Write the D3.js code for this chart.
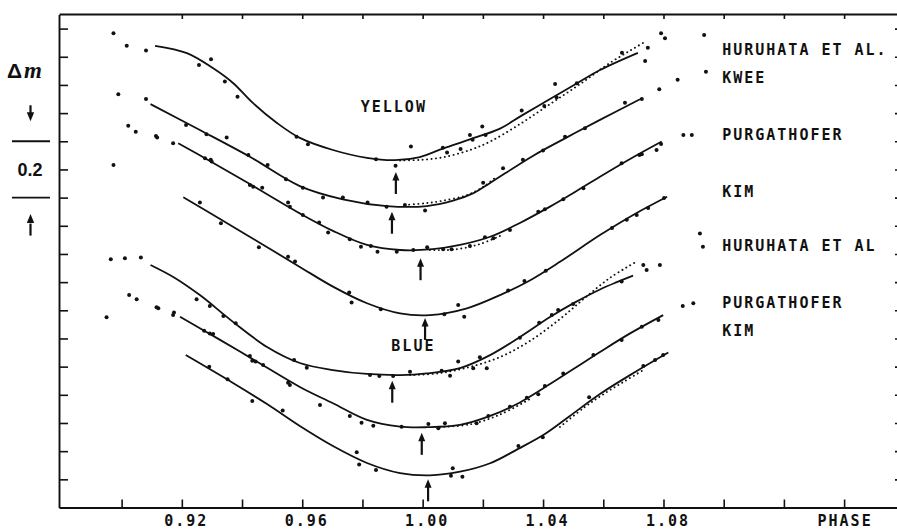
<!DOCTYPE html>
<html><head><meta charset="utf-8">
<script src="https://cdn.jsdelivr.net/npm/d3@7"></script>
<style>
html,body{margin:0;padding:0;background:#fff;}
svg{display:block;}
.mono{font-family:"DejaVu Sans Mono",monospace;font-size:15px;font-weight:bold;letter-spacing:2px;fill:#111;}
</style></head><body>
<svg id="chart" width="897" height="529"></svg>
<script>
// ---------- axis data ----------
const phaseTicks = [0.90,0.92,0.94,0.96,0.98,1.00,1.02,1.04,1.06,1.08,1.10,1.12,1.14];
const topPhaseTicks = [0.92,0.94,0.96,0.98,1.00,1.02,1.04,1.06,1.08,1.10,1.12,1.14];
const phaseLabels = ["0.92","0.96","1.00","1.04","1.08"];
const magTicks = [0.1,0.2,0.3,0.4,0.5,0.6,0.7,0.8,0.9,1.0,1.1,1.2,1.3,1.4,1.5,1.6,1.7];
const scaleBar = [1.1, 1.3]; // 0.2 mag bar
const seriesNames = ["HURUHATA ET AL.","KWEE","PURGATHOFER","KIM","HURUHATA ET AL","PURGATHOFER","KIM"];
const bandNames = ["YELLOW","BLUE"];

// ---------- series: [phase, delta m] ----------
// YELLOW – Huruhata et al.
const yHuruFit = [[0.9111,1.639],[0.9217,1.613],[0.9303,1.560],[0.9370,1.507],[0.9436,1.436],[0.9516,1.365],[0.9592,1.312],[0.9702,1.269],[0.9815,1.241],[0.9908,1.233],[0.9991,1.244],[1.0067,1.274],[1.0157,1.307],[1.0257,1.345],[1.0330,1.392],[1.0423,1.450],[1.0513,1.506],[1.0589,1.553],[1.0715,1.614]];
const yHuruRef = [[0.9925,1.232],[0.9991,1.234],[1.0067,1.243],[1.0157,1.269],[1.0224,1.299],[1.0323,1.361],[1.0423,1.432],[1.0523,1.503],[1.0622,1.578],[1.0732,1.649]];
const yHuruObs = [[0.8973,1.683],[0.9017,1.639],[0.9081,1.622],[0.9257,1.571],[0.9297,1.591],[0.9343,1.512],[0.9385,1.458],[0.9581,1.316],[0.9619,1.289],[0.9845,1.236],[0.9910,1.213],[0.9961,1.281],[1.0067,1.277],[1.0081,1.260],[1.0126,1.273],[1.0157,1.322],[1.0166,1.305],[1.0198,1.352],[1.0209,1.322],[1.0329,1.409],[1.0404,1.425],[1.0440,1.503],[1.0445,1.455],[1.0512,1.506],[1.0662,1.614],[1.0739,1.585],[1.0748,1.632],[1.0792,1.683],[1.0805,1.666],[1.0935,1.677]];
// YELLOW – Kwee
const yKweeFit = [[0.9096,1.432],[0.9260,1.340],[0.9426,1.245],[0.9592,1.141],[0.9735,1.094],[0.9881,1.070],[1.0014,1.070],[1.0101,1.089],[1.0167,1.115],[1.0224,1.152],[1.0366,1.248],[1.0476,1.312],[1.0589,1.376],[1.0722,1.449]];
const yKweeRef = [[0.9941,1.074],[1.0008,1.080],[1.0067,1.089],[1.0147,1.109],[1.0201,1.138],[1.0240,1.170]];
const yKweeObs = [[0.8989,1.467],[0.9081,1.450],[0.9214,1.358],[0.9282,1.325],[0.9349,1.313],[0.9421,1.251],[0.9485,1.216],[0.9546,1.165],[0.9602,1.135],[0.9669,1.100],[0.9735,1.100],[0.9817,1.083],[0.9880,1.068],[0.9941,1.074],[1.0008,1.054],[1.0201,1.153],[1.0267,1.204],[1.0333,1.234],[1.0400,1.267],[1.0473,1.316],[1.0539,1.346],[1.0672,1.437],[1.0728,1.450],[1.0786,1.485],[1.0847,1.518],[1.0941,1.547]];
// YELLOW – Purgathofer
const yPurgFit = [[0.9188,1.293],[0.9293,1.230],[0.9426,1.148],[0.9592,1.044],[0.9702,0.982],[0.9815,0.932],[0.9925,0.914],[1.0034,0.917],[1.0124,0.932],[1.0224,0.961],[1.0323,1.010],[1.0423,1.068],[1.0506,1.120],[1.0589,1.174],[1.0689,1.237],[1.0794,1.299]];
const yPurgRef = [[1.0024,0.914],[1.0107,0.916],[1.0190,0.935],[1.0257,0.964]];
const yPurgObs = [[0.9022,1.355],[0.9047,1.334],[0.9114,1.319],[0.9118,1.313],[0.9171,1.293],[0.9277,1.240],[0.9296,1.234],[0.9299,1.228],[0.9426,1.145],[0.9437,1.139],[0.9467,1.135],[0.9553,1.083],[0.9559,1.068],[0.9602,1.038],[0.9656,1.012],[0.9686,0.976],[0.9758,0.952],[0.9795,0.926],[0.9828,0.928],[0.9850,0.908],[0.9914,0.908],[0.9969,0.914],[1.0015,0.924],[1.0068,0.917],[1.0096,0.917],[1.0157,0.928],[1.0207,0.959],[1.0235,0.956],[1.0290,0.985],[1.0384,1.050],[1.0406,1.059],[1.0467,1.094],[1.0534,1.133],[1.0661,1.222],[1.0720,1.251],[1.0728,1.254],[1.0777,1.269],[1.0792,1.290],[1.0866,1.322],[1.0894,1.322]];
// YELLOW – Kim
const yKimFit = [[0.9205,1.101],[0.9327,1.024],[0.9460,0.939],[0.9592,0.854],[0.9702,0.784],[0.9815,0.725],[0.9925,0.689],[1.0024,0.683],[1.0147,0.707],[1.0257,0.754],[1.0356,0.806],[1.0456,0.872],[1.0589,0.967],[1.0705,1.042],[1.0812,1.103]];
const yKimRef = [];
const yKimObs = [[0.8973,1.216],[0.9260,1.083],[0.9330,1.009],[0.9456,0.924],[0.9553,0.890],[0.9576,0.873],[0.9756,0.763],[0.9764,0.728],[0.9861,0.704],[1.0072,0.686],[1.0118,0.719],[1.0138,0.677],[1.0284,0.770],[1.0338,0.804],[1.0409,0.840],[1.0629,0.992],[1.0678,1.021],[1.0711,1.038],[1.0749,1.063],[1.0802,1.099]];
// BLUE – Huruhata et al.
const bHuruFit = [[0.9096,0.861],[0.9177,0.815],[0.9260,0.754],[0.9370,0.659],[0.9483,0.570],[0.9592,0.513],[0.9702,0.488],[0.9815,0.474],[0.9925,0.470],[1.0014,0.476],[1.0124,0.495],[1.0224,0.541],[1.0323,0.605],[1.0423,0.676],[1.0506,0.728],[1.0589,0.774],[1.0645,0.800],[1.0699,0.823]];
const bHuruRef = [[0.9958,0.470],[1.0057,0.477],[1.0157,0.499],[1.0257,0.534],[1.0356,0.591],[1.0456,0.669],[1.0539,0.744],[1.0622,0.815],[1.0709,0.872]];
const bHuruObs = [[0.8964,0.881],[0.9011,0.885],[0.9064,0.887],[0.9249,0.739],[0.9293,0.715],[0.9338,0.680],[0.9379,0.654],[0.9573,0.524],[0.9615,0.496],[0.9825,0.470],[0.9856,0.467],[0.9902,0.467],[0.9958,0.482],[1.0063,0.485],[1.0091,0.468],[1.0118,0.518],[1.0168,0.494],[1.0190,0.533],[1.0213,0.494],[1.0323,0.603],[1.0387,0.656],[1.0429,0.683],[1.0450,0.701],[1.0500,0.722],[1.0661,0.802],[1.0733,0.861],[1.0744,0.843],[1.0788,0.861],[1.0921,0.973],[1.0931,0.926]];
// BLUE – Purgathofer
const bPurgFit = [[0.9194,0.677],[0.9327,0.595],[0.9460,0.511],[0.9592,0.428],[0.9702,0.370],[0.9815,0.311],[0.9925,0.287],[1.0014,0.285],[1.0124,0.293],[1.0224,0.325],[1.0323,0.373],[1.0423,0.438],[1.0506,0.495],[1.0589,0.552],[1.0689,0.618],[1.0799,0.683]];
const bPurgRef = [[1.0057,0.286],[1.0157,0.295],[1.0257,0.330],[1.0356,0.385]];
const bPurgObs = [[0.9025,0.754],[0.9050,0.739],[0.9116,0.711],[0.9122,0.707],[0.9174,0.692],[0.9171,0.683],[0.9274,0.627],[0.9293,0.618],[0.9304,0.616],[0.9426,0.538],[0.9434,0.521],[0.9445,0.518],[0.9470,0.506],[0.9553,0.443],[0.9559,0.435],[0.9659,0.364],[0.9758,0.325],[0.9797,0.301],[0.9836,0.290],[0.9930,0.287],[1.0019,0.296],[1.0052,0.281],[1.0074,0.299],[1.0179,0.299],[1.0218,0.325],[1.0290,0.358],[1.0346,0.390],[1.0384,0.402],[1.0406,0.431],[1.0467,0.476],[1.0567,0.541],[1.0661,0.595],[1.0728,0.642],[1.0783,0.666],[1.0864,0.715],[1.0899,0.725]];
// BLUE – Kim
const bKimFit = [[0.9213,0.541],[0.9370,0.442],[0.9483,0.367],[0.9592,0.289],[0.9702,0.218],[0.9815,0.158],[0.9925,0.122],[1.0024,0.114],[1.0124,0.127],[1.0224,0.157],[1.0317,0.208],[1.0406,0.261],[1.0489,0.325],[1.0589,0.403],[1.0706,0.481],[1.0816,0.550]];
const bKimRef = [[1.0456,0.286],[1.0539,0.357],[1.0606,0.406],[1.0672,0.449],[1.0739,0.492]];
const bKimObs = [[0.8950,0.675],[0.9291,0.500],[0.9352,0.455],[0.9434,0.378],[0.9535,0.344],[0.9781,0.196],[0.9789,0.153],[0.9845,0.133],[1.0094,0.113],[1.0100,0.139],[1.0132,0.109],[1.0318,0.218],[1.0399,0.249],[1.0553,0.391],[1.0733,0.502],[1.0772,0.524],[1.0799,0.541]];

// minima arrows: [phase, delta m of arrow tip]
const minima = [[0.9911,1.191],[0.9898,1.050],[0.9993,0.885],[1.0008,0.673],[0.9899,0.450],[0.9997,0.265],[1.0018,0.100]];

// ---------- layout (not data) ----------
const labelPhase = 1.0995;
const labelMag = [1.624,1.525,1.324,1.122,0.928,0.728,0.627];
const bandPos = [[0.9901,1.422],[0.9966,0.575]];

const fits = [yHuruFit,yKweeFit,yPurgFit,yKimFit,bHuruFit,bPurgFit,bKimFit];
const refs = [yHuruRef,yKweeRef,yPurgRef,yKimRef,bHuruRef,bPurgRef,bKimRef];
const obs  = [yHuruObs,yKweeObs,yPurgObs,yKimObs,bHuruObs,bPurgObs,bKimObs];

const ink = "#111";
const svg = d3.select("#chart");
const x = d3.scaleLinear().domain([0.8792,1.1579]).range([59,898]);
const y = d3.scaleLinear().domain([0,1.75]).range([507.5,14.5]);

// axes
const fmt = d => { const s = d3.format(".2f")(d); return phaseLabels.includes(s) ? s : ""; };
const gB = svg.append("g").attr("transform","translate(0,507.5)")
  .call(d3.axisBottom(x).tickValues(phaseTicks).tickSize(-8).tickSizeOuter(0).tickFormat(fmt));
gB.selectAll("text").attr("class","mono").attr("y",18).attr("dy",0).attr("dx",4).attr("fill",ink);
const gT = svg.append("g").attr("transform","translate(0,14)")
  .call(d3.axisTop(x).tickValues(topPhaseTicks).tickSize(-5).tickSizeOuter(0).tickFormat(""));
const gL = svg.append("g").attr("transform","translate(59,0)")
  .call(d3.axisLeft(y).tickValues(magTicks).tickSize(-9).tickSizeOuter(0).tickFormat(""));
const gR = svg.append("g").attr("transform","translate(899,0)")
  .call(d3.axisRight(y).tickValues(magTicks).tickSize(-4).tickSizeOuter(0).tickFormat(""));
[gB,gT,gL,gR].forEach(g=>{
  g.select(".domain").attr("stroke",ink).attr("stroke-width",1.9);
  g.selectAll(".tick line").attr("stroke",ink).attr("stroke-width",1.6);
});
svg.append("text").attr("class","mono").attr("x",x(1.14)).attr("dx",1).attr("y",525.5)
  .attr("text-anchor","middle").text("PHASE");

// curves
const line = d3.line().x(d=>x(d[0])).y(d=>y(d[1])).curve(d3.curveCatmullRom.alpha(0.5));
const gC = svg.append("g");
fits.forEach(f=>gC.append("path").attr("d",line(f)).attr("fill","none").attr("stroke",ink).attr("stroke-width",1.8));
refs.forEach(r=>{ if(r.length) gC.append("path").attr("d",line(r)).attr("fill","none").attr("stroke",ink)
  .attr("stroke-width",1.9).attr("stroke-linecap","round").attr("stroke-dasharray","0.1 4.4"); });
obs.forEach(o=>gC.selectAll(null).data(o).enter().append("circle")
  .attr("cx",d=>x(d[0])).attr("cy",d=>y(d[1])).attr("r",2).attr("fill",ink));

// minimum arrows
const gA = svg.append("g");
minima.forEach(m=>{
  const tx = x(m[0]), ty = y(m[1]);
  gA.append("line").attr("x1",tx).attr("x2",tx).attr("y1",ty+6).attr("y2",ty+22).attr("stroke",ink).attr("stroke-width",2.2);
  gA.append("path").attr("d",`M${tx},${ty}L${tx-3.5},${ty+8.5}L${tx+3.5},${ty+8.5}Z`).attr("fill",ink);
});

// labels
seriesNames.forEach((n,i)=>svg.append("text").attr("class","mono").attr("x",x(labelPhase))
  .attr("y",y(labelMag[i])).attr("dy","0.36em").text(n));
bandNames.forEach((n,i)=>svg.append("text").attr("class","mono").attr("x",x(bandPos[i][0])).attr("dx",1)
  .attr("y",y(bandPos[i][1])).attr("dy","0.36em").attr("text-anchor","middle").text(n));

// left Δm scale bar
const gS = svg.append("g");
gS.append("text").attr("x",7).attr("y",78).attr("fill",ink)
  .call(t=>{ t.append("tspan").attr("font-family","Liberation Sans, Arial, sans-serif").attr("font-weight","bold").attr("font-size",21).text("Δ");
             t.append("tspan").attr("dx",2).attr("font-family","Liberation Serif, Times New Roman, serif").attr("font-weight","bold").attr("font-style","italic").attr("font-size",23).text("m"); });
scaleBar.forEach(v=>gS.append("line").attr("x1",12).attr("x2",50).attr("y1",y(v)).attr("y2",y(v)).attr("stroke",ink).attr("stroke-width",1.9));
gS.append("text").attr("x",30).attr("y",y(d3.mean(scaleBar))).attr("dy","0.36em").attr("text-anchor","middle")
  .attr("font-family","Liberation Sans, Arial, sans-serif").attr("font-weight","bold").attr("font-size",18).attr("fill",ink).text("0.2");
const barTop = y(scaleBar[1]), barBot = y(scaleBar[0]);
// down arrow above bar, up arrow below bar
gS.append("line").attr("x1",30.5).attr("x2",30.5).attr("y1",barTop-36).attr("y2",barTop-26).attr("stroke",ink).attr("stroke-width",2.2);
gS.append("path").attr("d",`M30.5,${barTop-20}L26.8,${barTop-29}L34.2,${barTop-29}Z`).attr("fill",ink);
gS.append("line").attr("x1",30.5).attr("x2",30.5).attr("y1",barBot+26).attr("y2",barBot+38).attr("stroke",ink).attr("stroke-width",2.2);
gS.append("path").attr("d",`M30.5,${barBot+16.5}L26.8,${barBot+25.5}L34.2,${barBot+25.5}Z`).attr("fill",ink);
</script></body></html>
